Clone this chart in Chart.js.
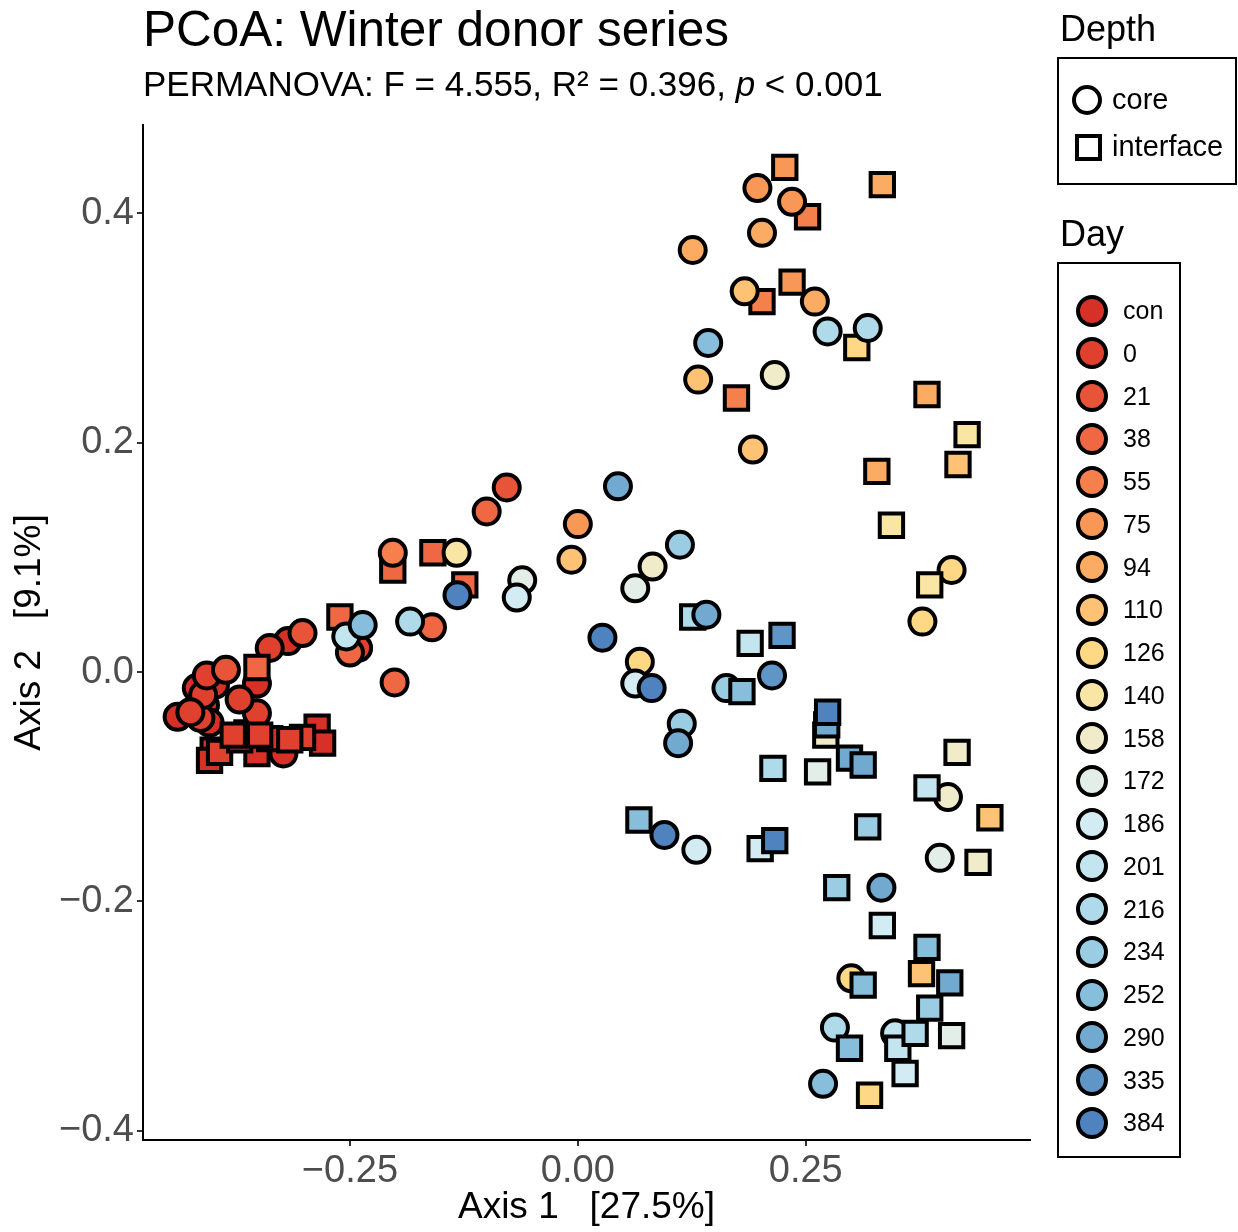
<!DOCTYPE html>
<html lang="en">
<head>
<meta charset="UTF-8" />
<title>PCoA: Winter donor series</title>
<script src="https://cdn.jsdelivr.net/npm/chart.js"></script>
<style>
  body { margin: 0; background: #fff; font-family: "Liberation Sans", Arial, sans-serif; color: #000; }
  #wrap { position: relative; width: 1238px; height: 1232px; overflow: hidden; }
  #plot { position: absolute; left: 0; top: 0; }
  .txt { position: absolute; line-height: 1; white-space: pre; }
  .box { position: absolute; border: 2px solid #000; box-sizing: border-box; }
  .key { position: absolute; box-sizing: border-box; border: 4px solid #000; }
</style>
</head>
<body>
<div id="wrap">
  <canvas id="plot" width="1238" height="1232"></canvas>

  <!-- titles -->
  <div class="txt" style="left:143px; top:4px; font-size:49.5px;">PCoA: Winter donor series</div>
  <div class="txt" style="left:143px; top:66px; font-size:35px;">PERMANOVA: F = 4.555, R² = 0.396, <i>p</i> &lt; 0.001</div>

  <!-- Depth legend -->
  <div class="txt" style="left:1060px; top:11px; font-size:36px;">Depth</div>
  <div class="box" style="left:1057px; top:57px; width:180px; height:128px;"></div>
  <div class="key" style="left:1072px; top:85px; width:30px; height:30px; border-radius:50%; background:#fff;"></div>
  <div class="txt" style="left:1112px; top:85px; font-size:29px;">core</div>
  <div class="key" style="left:1075px; top:134px; width:27px; height:27px; background:#fff;"></div>
  <div class="txt" style="left:1112px; top:132px; font-size:29px;">interface</div>

  <!-- Day legend -->
  <div class="txt" style="left:1060px; top:216px; font-size:36px;">Day</div>
  <div class="box" style="left:1057px; top:262px; width:124px; height:896px;"></div>
  <div id="dayKeys"></div>
</div>

<script>
  // sampling days (legend order) and their fill colours
  const days = ['con', '0', '21', '38', '55', '75', '94', '110', '126', '140',
                '158', '172', '186', '201', '216', '234', '252', '290', '335', '384'];
  const dayColors = ['#d73027', '#e0402e', '#e85438', '#f06843', '#f6804c', '#f99757', '#fcab63',
                     '#fdc273', '#fed884', '#f9e5a4', '#f0ebc8', '#e2eee7', '#d3ecf3', '#c2e5ef',
                     '#afdaea', '#9acce3', '#86bedb', '#71a9d0', '#5f96c7', '#4f83bf'];

  // PCoA coordinates [Axis 1, Axis 2], one list per day, same order as days
  const corePts = [
    /* con */ [[-0.439, -0.039], [-0.409, -0.029], [-0.418, -0.014], [-0.398, -0.011], [-0.404, -0.044], [-0.352, -0.010], [-0.318, 0.027], [-0.323, -0.071]],
    /* 0   */ [[-0.414, -0.040], [-0.411, -0.020], [-0.407, -0.003], [-0.425, -0.035], [-0.352, -0.036], [-0.338, 0.021], [-0.371, -0.024], [-0.241, 0.021]],
    /* 21  */ [[-0.386, 0.002], [-0.302, 0.034], [-0.078, 0.161]],
    /* 38  */ [[-0.160, 0.039], [-0.201, -0.009], [-0.100, 0.140], [-0.250, 0.017]],
    /* 55  */ [[-0.203, 0.104]],
    /* 75  */ [[0.197, 0.422], [0.235, 0.410], [0.000, 0.129]],
    /* 94  */ [[0.202, 0.383], [0.126, 0.368], [0.260, 0.323]],
    /* 110 */ [[0.183, 0.332], [0.132, 0.255], [0.192, 0.194], [-0.007, 0.098]],
    /* 126 */ [[0.410, 0.089], [0.378, 0.044], [0.068, 0.009], [0.300, -0.267]],
    /* 140 */ [[-0.133, 0.104]],
    /* 158 */ [[0.216, 0.259], [0.082, 0.092], [0.406, -0.109]],
    /* 172 */ [[-0.061, 0.080], [0.063, 0.073], [0.397, -0.162]],
    /* 186 */ [[-0.067, 0.065], [0.063, -0.010], [0.130, -0.155]],
    /* 201 */ [[-0.254, 0.031], [0.348, -0.315]],
    /* 216 */ [[-0.184, 0.044], [0.274, 0.297], [0.318, 0.300], [0.282, -0.310]],
    /* 234 */ [[0.112, 0.111], [0.163, -0.014], [0.114, -0.045]],
    /* 252 */ [[-0.236, 0.041], [0.143, 0.287], [0.269, -0.359]],
    /* 290 */ [[0.044, 0.162], [0.141, 0.050], [0.110, -0.062], [0.333, -0.188]],
    /* 335 */ [[0.213, -0.003]],
    /* 384 */ [[-0.132, 0.067], [0.027, 0.030], [0.081, -0.014], [0.095, -0.142]]
  ];
  const ifacePts = [
    /* con */ [[-0.400, -0.068], [-0.404, -0.077], [-0.363, -0.053], [-0.352, -0.071], [-0.338, -0.058], [-0.286, -0.048], [-0.280, -0.062]],
    /* 0   */ [[-0.393, -0.070], [-0.371, -0.059], [-0.349, -0.055], [-0.302, -0.057], [-0.316, -0.059], [-0.378, -0.055]],
    /* 21  */ [],
    /* 38  */ [[-0.352, 0.004], [-0.261, 0.048], [-0.159, 0.104], [-0.203, 0.089], [-0.124, 0.076]],
    /* 55  */ [[0.252, 0.397], [0.202, 0.323], [0.174, 0.239]],
    /* 75  */ [[0.227, 0.440], [0.235, 0.340]],
    /* 94  */ [[0.334, 0.425], [0.383, 0.242], [0.328, 0.175]],
    /* 110 */ [[0.417, 0.181], [0.452, -0.127], [0.377, -0.263]],
    /* 126 */ [[0.306, 0.283], [0.320, -0.369]],
    /* 140 */ [[0.427, 0.207], [0.344, 0.128], [0.386, 0.076]],
    /* 158 */ [[0.272, -0.055], [0.416, -0.070], [0.439, -0.166]],
    /* 172 */ [[0.263, -0.087], [0.410, -0.317]],
    /* 186 */ [[0.200, -0.154], [0.334, -0.221], [0.359, -0.350]],
    /* 201 */ [[0.189, 0.025], [0.383, -0.101], [0.351, -0.328]],
    /* 216 */ [[0.126, 0.048], [0.214, -0.084], [0.370, -0.315]],
    /* 234 */ [[0.318, -0.135], [0.284, -0.188], [0.386, -0.293]],
    /* 252 */ [[0.067, -0.129], [0.180, -0.017], [0.383, -0.240], [0.313, -0.273], [0.298, -0.328]],
    /* 290 */ [[0.298, -0.075], [0.313, -0.081], [0.408, -0.271], [0.273, -0.046]],
    /* 335 */ [[0.224, 0.032]],
    /* 384 */ [[0.274, -0.035], [0.216, -0.147]]
  ];

  const xTicks = [-0.25, 0, 0.25];
  const yTicks = [-0.4, -0.2, 0, 0.2, 0.4];

  // Day legend keys
  const keyBox = document.getElementById('dayKeys');
  days.forEach((d, i) => {
    const cy = 310.7 + i * 42.75;
    const dot = document.createElement('div');
    dot.className = 'key';
    dot.style.cssText = `left:${1092 - 16}px; top:${cy - 16}px; width:32px; height:32px; border-radius:50%; background:${dayColors[i]};`;
    keyBox.appendChild(dot);
    const lab = document.createElement('div');
    lab.className = 'txt';
    lab.style.cssText = `left:1123px; top:${cy - 12.5}px; font-size:25px;`;
    lab.textContent = d;
    keyBox.appendChild(lab);
  });

  // one dataset per day and depth; later days drawn on top
  const datasets = [];
  days.forEach((d, i) => {
    datasets.push({
      label: d + ' core',
      data: corePts[i].map(p => ({ x: p[0], y: p[1] })),
      pointStyle: 'circle',
      pointRadius: 13,
      backgroundColor: dayColors[i],
      borderColor: '#000',
      borderWidth: 4,
      order: 2 * (days.length - i) + 1
    });
    datasets.push({
      label: d + ' interface',
      data: ifacePts[i].map(p => ({ x: p[0], y: p[1] })),
      pointStyle: 'rect',
      pointRadius: 16.5,
      backgroundColor: dayColors[i],
      borderColor: '#000',
      borderWidth: 4,
      order: 2 * (days.length - i)
    });
  });

  const fmt = (v, dec) => (v < 0 ? '\u2212' : '') + Math.abs(v).toFixed(dec);

  new Chart(document.getElementById('plot'), {
    type: 'scatter',
    data: { datasets },
    options: {
      responsive: false,
      animation: false,
      events: [],
      layout: { padding: { left: 0, top: 125, right: 208, bottom: 0 } },
      plugins: { legend: { display: false }, tooltip: { enabled: false } },
      scales: {
        x: {
          min: -0.477, max: 0.496,
          afterBuildTicks: s => { s.ticks = xTicks.map(v => ({ value: v })); },
          afterFit: s => { s.height = 92; },
          grid: { drawOnChartArea: false, drawTicks: true, tickLength: 6, color: '#333', lineWidth: 2 },
          border: { display: true, color: '#000', width: 2 },
          ticks: { color: '#4d4d4d', font: { family: 'Liberation Sans', size: 38 }, padding: 3,
                   maxRotation: 0, callback: v => fmt(v, 2) },
          title: { display: true, text: 'Axis 1   [27.5%]', color: '#000',
                   font: { family: 'Liberation Sans', size: 37 }, padding: { top: 0, bottom: 2 } }
        },
        y: {
          min: -0.408, max: 0.477,
          afterBuildTicks: s => { s.ticks = yTicks.map(v => ({ value: v })); },
          afterFit: s => { s.width = 143; },
          grid: { drawOnChartArea: false, drawTicks: true, tickLength: 6, color: '#333', lineWidth: 2 },
          border: { display: true, color: '#000', width: 2 },
          ticks: { color: '#4d4d4d', font: { family: 'Liberation Sans', size: 38 }, padding: 3,
                   callback: v => fmt(v, 1) },
          title: { display: true, text: 'Axis 2   [9.1%]', color: '#000',
                   font: { family: 'Liberation Sans', size: 37 }, padding: { top: 8, bottom: 0 } }
        }
      }
    }
  });
</script>
</body>
</html>
